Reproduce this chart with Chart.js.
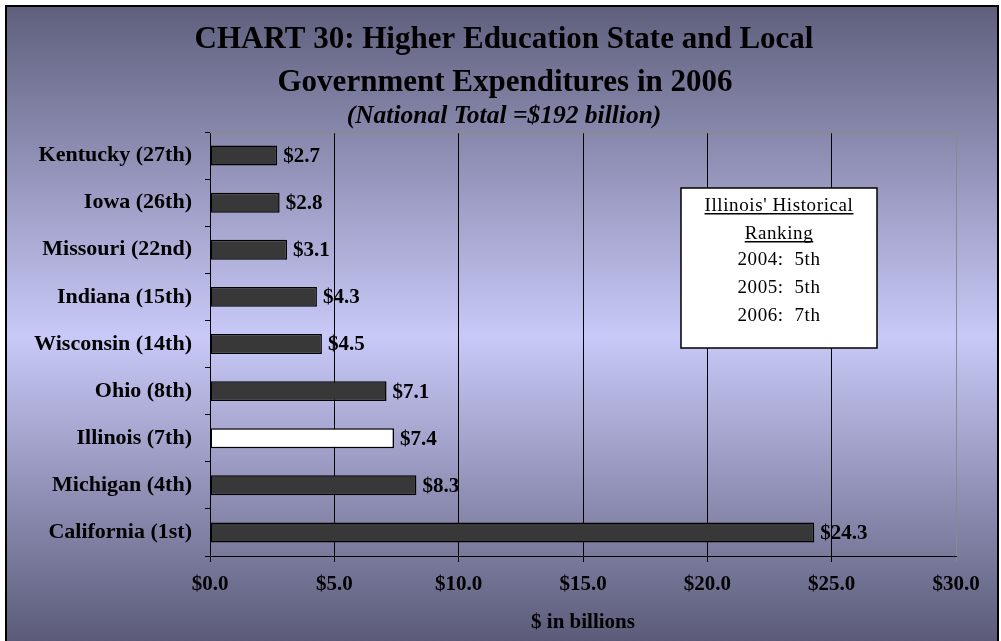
<!DOCTYPE html>
<html>
<head>
<meta charset="utf-8">
<script src="https://cdn.jsdelivr.net/npm/chart.js@4/dist/chart.umd.min.js"></script>
<style>
  html, body { margin: 0; padding: 0; background: #fff; overflow: hidden; }
  #wrap { width: 1001px; height: 641px; position: relative; }
</style>
</head>
<body>
<div id="wrap"><canvas id="chart" width="1001" height="641"></canvas></div>
<script>
// Higher education state & local spending, 2006 ($ billions)
const states = [
  'Kentucky (27th)', 'Iowa (26th)', 'Missouri (22nd)', 'Indiana (15th)',
  'Wisconsin (14th)', 'Ohio (8th)', 'Illinois (7th)', 'Michigan (4th)', 'California (1st)'
];
const spending = [2.7, 2.8, 3.1, 4.3, 4.5, 7.1, 7.4, 8.3, 24.3];
const highlightState = 'Illinois (7th)';
const xTickValues = [0, 5, 10, 15, 20, 25, 30];

const titleLines = ['CHART 30: Higher Education State and Local', 'Government Expenditures in 2006'];
const subtitleText = '(National Total =$192 billion)';
const xAxisTitle = '$ in billions';
const rankingHeading = ["Illinois' Historical", 'Ranking'];
const rankingRows = ['2004:  5th', '2005:  5th', '2006:  7th'];

const SERIF = "'Liberation Serif', 'Times New Roman', serif";

// Gradient panel with a black frame behind everything
const backdrop = {
  id: 'backdrop',
  beforeDraw(chart) {
    const { ctx, width, height } = chart;
    ctx.save();
    ctx.fillStyle = '#ffffff';
    ctx.fillRect(0, 0, width, height);
    const g = ctx.createLinearGradient(0, 6, 0, height);
    g.addColorStop(0, '#5f5f7d');
    g.addColorStop(0.52, '#c9c9f8');
    g.addColorStop(1, '#5b5b79');
    ctx.fillStyle = g;
    ctx.fillRect(6, 6, 992, height);
    ctx.strokeStyle = '#000';
    ctx.lineWidth = 2;
    ctx.strokeRect(6, 6, 992, height + 10);
    ctx.restore();
  }
};

// Light top edge of the plot area
const plotEdge = {
  id: 'plotEdge',
  beforeDatasetsDraw(chart) {
    const { ctx, chartArea: a } = chart;
    ctx.save();
    ctx.strokeStyle = '#8a8a8a';
    ctx.lineWidth = 1.5;
    ctx.beginPath();
    ctx.moveTo(a.left, a.top + 0.5);
    ctx.lineTo(a.right, a.top + 0.5);
    ctx.stroke();
    ctx.restore();
  }
};

// Dollar value printed at the end of each bar
const valueLabels = {
  id: 'valueLabels',
  afterDatasetsDraw(chart) {
    const { ctx } = chart;
    const meta = chart.getDatasetMeta(0);
    ctx.save();
    ctx.font = 'bold 21px ' + SERIF;
    ctx.fillStyle = '#000';
    ctx.textAlign = 'left';
    ctx.textBaseline = 'middle';
    meta.data.forEach((bar, i) => {
      ctx.fillText('$' + spending[i].toFixed(1), bar.x + 6, bar.y + 1);
    });
    ctx.restore();
  }
};

// Title, subtitle and the ranking note box
const headings = {
  id: 'headings',
  afterDraw(chart) {
    const { ctx } = chart;
    ctx.save();
    ctx.fillStyle = '#000';
    ctx.textAlign = 'center';
    ctx.textBaseline = 'alphabetic';
    ctx.font = 'bold 31px ' + SERIF;
    ctx.fillText(titleLines[0], 504, 48);
    ctx.fillText(titleLines[1], 505, 91);
    ctx.font = 'italic bold 25.5px ' + SERIF;
    ctx.fillText(subtitleText, 504, 123);

    // ranking box
    const bx = 681, by = 188, bw = 196, bh = 160;
    ctx.fillStyle = '#fff';
    ctx.fillRect(bx, by, bw, bh);
    ctx.strokeStyle = '#000';
    ctx.lineWidth = 1.5;
    ctx.strokeRect(bx, by, bw, bh);

    const cx = bx + bw / 2;
    ctx.fillStyle = '#000';
    ctx.font = '19px ' + SERIF;
    if ('letterSpacing' in ctx) ctx.letterSpacing = '0.6px';
    ctx.textBaseline = 'alphabetic';
    const lines = rankingHeading.concat(rankingRows);
    const baseY = [211, 239, 265, 293, 321];
    lines.forEach((t, i) => {
      ctx.fillText(t, cx, baseY[i]);
      if (i < rankingHeading.length) {
        const w = ctx.measureText(t).width;
        ctx.fillRect(cx - w / 2, baseY[i] + 2, w, 1.5);
      }
    });
    ctx.restore();
  }
};

new Chart(document.getElementById('chart'), {
  type: 'bar',
  data: {
    labels: states,
    datasets: [{
      data: spending,
      backgroundColor: states.map(s => s === highlightState ? '#ffffff' : '#383838'),
      borderColor: '#000',
      borderWidth: 1.5,
      borderSkipped: false,
      barPercentage: 0.9,
      categoryPercentage: 0.47
    }]
  },
  options: {
    indexAxis: 'y',
    responsive: false,
    animation: false,
    devicePixelRatio: 1,
    layout: { padding: { top: 132, left: 6, right: 45, bottom: 0 } },
    plugins: {
      legend: { display: false },
      tooltip: { enabled: false },
      title: { display: false }
    },
    scales: {
      x: {
        min: 0,
        max: 30,
        afterBuildTicks(scale) { scale.ticks = xTickValues.map(v => ({ value: v })); },
        afterFit(scale) { scale.height = 85; },
        ticks: {
          color: '#000',
          font: { family: SERIF, size: 21, weight: 'bold' },
          padding: 10,
          callback: v => '$' + Number(v).toFixed(1)
        },
        grid: {
          color: ctx => (ctx.tick && ctx.tick.value === 30) ? '#8a8a8a' : '#000',
          lineWidth: 1,
          tickLength: 6
        },
        border: { display: true, color: '#000', width: 1 },
        title: {
          display: true,
          text: xAxisTitle,
          color: '#000',
          font: { family: SERIF, size: 21, weight: 'bold' },
          padding: { top: 0, bottom: 6 }
        }
      },
      y: {
        afterFit(scale) { scale.width = 204; },
        ticks: {
          color: '#000',
          font: { family: SERIF, size: 22, weight: 'bold' },
          padding: 13
        },
        grid: {
          drawOnChartArea: false,
          drawTicks: true,
          tickLength: 5,
          color: '#000',
          offset: true
        },
        border: { display: true, color: '#000', width: 1 }
      }
    }
  },
  plugins: [backdrop, plotEdge, valueLabels, headings]
});
</script>
</body>
</html>
